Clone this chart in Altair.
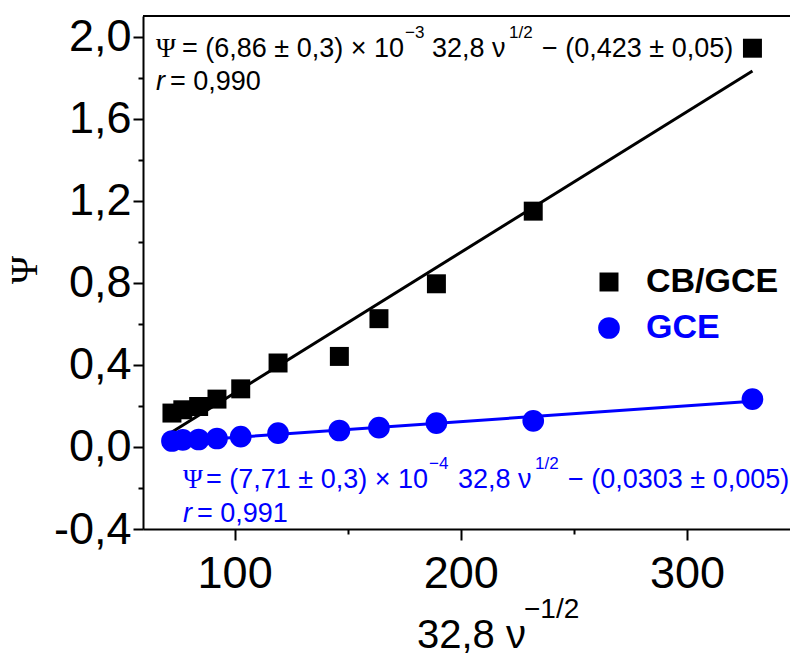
import altair as alt
import pandas as pd

# ---------------- data ----------------
series = ["CB/GCE", "GCE"]
x_vals = [72.3, 77.1, 84.1, 92.2, 102.7, 119.2, 146.3, 163.8, 189.2, 232.0, 328.9]
cb_vals = [0.165, 0.181, 0.197, 0.233, 0.283, 0.409, 0.441, 0.625, 0.795, 1.149, 1.943]
gce_vals = [0.029, 0.034, 0.036, 0.041, 0.050, 0.067, 0.080, 0.094, 0.116, 0.127, 0.233]

fit_x = [72.3, 328.9]
cb_fit_y = [0.073, 1.832]
gce_fit_y = [0.025, 0.223]

x_ticks = [100, 150, 200, 250, 300]
y_ticks = [-0.4, -0.2, 0.0, 0.2, 0.4, 0.6, 0.8, 1.0, 1.2, 1.4, 1.6, 1.8, 2.0]

cb_eq = ["\u03a8", "= (6,86 \u00b1 0,3) \u00d7 10", "\u22123", "32,8 \u03bd", "1/2", "\u2212 (0,423 \u00b1 0,05)"]
cb_r = ["r", "= 0,990"]
gce_eq = ["\u03a8", "= (7,71 \u00b1 0,3) \u00d7 10", "\u22124", "32,8 \u03bd", "1/2", "\u2212 (0,0303 \u00b1 0,005)"]
gce_r = ["r", "= 0,991"]
x_title = ["32,8 \u03bd", "\u22121/2"]
y_title = "\u03a8"

# ---------------- layout ----------------
W, H = 647, 513
X_DOMAIN = [59.5, 345.5]
Y_DOMAIN = [-0.4, 2.1]
SANS = "'Liberation Sans', Arial, sans-serif"
SERIF = "'Liberation Serif', 'Times New Roman', serif"

pts = pd.DataFrame({
    "x": x_vals + x_vals,
    "y": cb_vals + gce_vals,
    "series": [series[0]] * len(x_vals) + [series[1]] * len(x_vals),
})
cb_fit = pd.DataFrame({"x": fit_x, "y": cb_fit_y})
gce_fit = pd.DataFrame({"x": fit_x, "y": gce_fit_y})

xscale = alt.Scale(domain=X_DOMAIN, nice=False, zero=False)
yscale = alt.Scale(domain=Y_DOMAIN, nice=False, zero=False)

x_axis = alt.Axis(
    values=x_ticks,
    title=None,
    grid=False,
    labelExpr="datum.value % 100 == 0 ? format(datum.value, 'd') : ''",
    tickSize={"condition": {"test": "datum.value % 100 == 0", "value": 11}, "value": 5},
    labelFont=SANS, labelFontSize=45, labelPadding=11, labelColor="black",
    domainColor="black", domainWidth=2, tickColor="black", tickWidth=2,
    labelFlush=False, labelOverlap=False,
)
y_axis = alt.Axis(
    values=y_ticks,
    title=None,
    grid=False,
    labelExpr="abs(round(datum.value*10)) % 4 == 0 ? replace(replace(format(datum.value, '.1f'), '.', ','), '\u2212', '-') : ''",
    tickSize={"condition": {"test": "abs(round(datum.value*10)) % 4 == 0", "value": 10}, "value": 5},
    labelFont=SANS, labelFontSize=45, labelPadding=2, labelColor="black",
    domainColor="black", domainWidth=2, tickColor="black", tickWidth=2,
    labelFlush=False, labelOverlap=False,
)

X = alt.X("x:Q", scale=xscale, axis=x_axis)
Y = alt.Y("y:Q", scale=yscale, axis=y_axis)

one = alt.Data(values=[{}])


def txt(s, x, y, size, color="black", font=SANS, style="normal", weight="normal",
        angle=0, align="left", baseline="alphabetic"):
    return alt.Chart(one).mark_text(
        text=s, font=font, fontSize=size, color=color, fontStyle=style,
        fontWeight=weight, angle=angle, align=align, baseline=baseline,
    ).encode(x=alt.value(x), y=alt.value(y))


frame_top = alt.Chart(one).mark_rule(color="black", strokeWidth=2).encode(
    x=alt.value(0), x2=alt.value(W), y=alt.value(0)
)

cb_line = alt.Chart(cb_fit).mark_line(color="black", strokeWidth=3).encode(x=X, y=Y)
gce_line = alt.Chart(gce_fit).mark_line(color="#0000ff", strokeWidth=3).encode(x=X, y=Y)

legend = alt.Legend(
    title=None, orient="none", legendX=449, legendY=249,
    labelFont=SANS, labelFontSize=34, labelFontWeight="bold",
    labelColor=alt.ExprRef("datum.label == 'GCE' ? '#0000ff' : '#000000'"),
    symbolSize=420, labelOffset=20, rowPadding=12, symbolStrokeWidth=0,
)

points = alt.Chart(pts).mark_point(filled=True, opacity=1, strokeWidth=0).encode(
    x=X, y=Y,
    color=alt.Color("series:N", scale=alt.Scale(domain=series, range=["#000000", "#0000ff"]), legend=legend),
    shape=alt.Shape("series:N", scale=alt.Scale(domain=series, range=["square", "circle"]), legend=legend),
    size=alt.Size("series:N", scale=alt.Scale(domain=series, range=[360, 470]), legend=None),
)

FS, SS = 27, 17
texts = []
# black equation (top)
BY, BR = 41, 74
texts += [
    txt(cb_eq[0], 13, BY, FS, font=SERIF),
    txt(cb_eq[1], 39, BY, FS),
    txt(cb_eq[2], 262, BY - 19, SS),
    txt(cb_eq[3], 289, BY, FS),
    txt(cb_eq[4], 366, BY - 19, SS),
    txt(cb_eq[5], 399, BY, FS),
    txt(cb_r[0], 13, BR, FS, style="italic"),
    txt(cb_r[1], 27, BR, FS),
]
# blue equation (bottom)
GY, GR = 472, 506
blue = "#0000ff"
texts += [
    txt(gce_eq[0], 40, GY, FS, color=blue, font=SERIF),
    txt(gce_eq[1], 63, GY, FS, color=blue),
    txt(gce_eq[2], 286, GY - 19, SS, color=blue),
    txt(gce_eq[3], 315, GY, FS, color=blue),
    txt(gce_eq[4], 392, GY - 19, SS, color=blue),
    txt(gce_eq[5], 425, GY, FS, color=blue),
    txt(gce_r[0], 40, GR, FS, color=blue, style="italic"),
    txt(gce_r[1], 54, GR, FS, color=blue),
]
# axis titles
texts += [
    txt(x_title[0], 274, 632, 40),
    txt(x_title[1], 381, 602, 28),
    txt(y_title, -117, 254, 38, font=SERIF, angle=270, align="center", baseline="middle"),
]

chart = alt.layer(frame_top, cb_line, gce_line, points, *texts).properties(
    width=W, height=H,
    padding={"left": 135, "top": 8, "right": 0, "bottom": 127},
    autosize=alt.AutoSizeParams(type="none"),
).configure_view(stroke=None).configure(background="white")

chart.save("out.html", embed_options={"renderer": "svg", "actions": False})
